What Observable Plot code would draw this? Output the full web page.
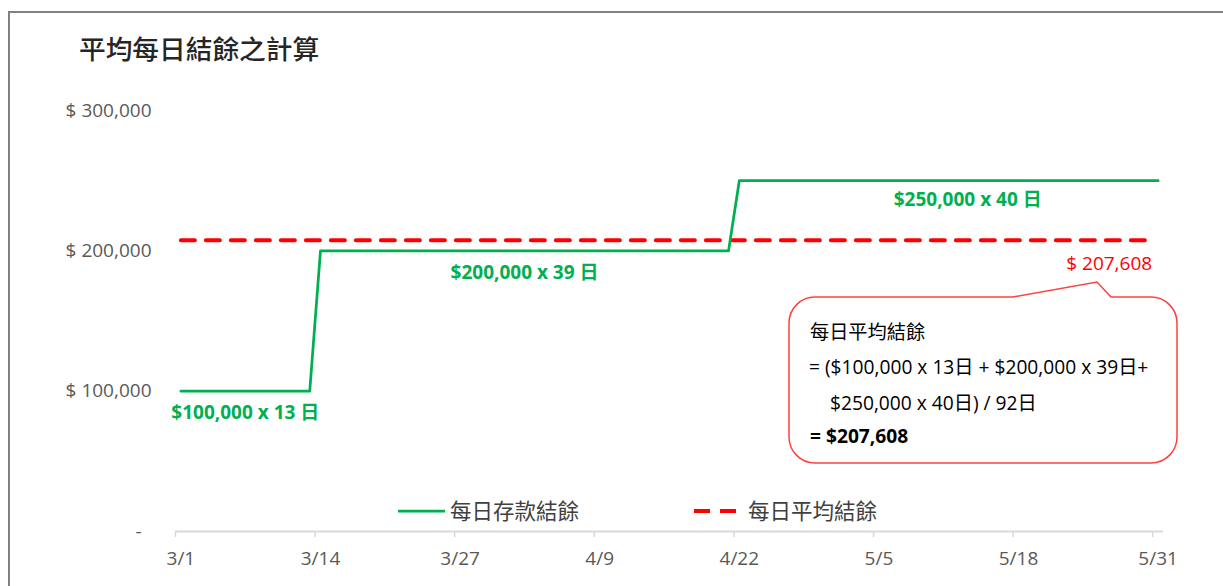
<!DOCTYPE html>
<html>
<head>
<meta charset="utf-8">
<script src="https://cdn.jsdelivr.net/npm/d3@7"></script>
<script src="https://cdn.jsdelivr.net/npm/@observablehq/plot@0.6"></script>
<style>
  html, body { margin: 0; padding: 0; background: #fff; overflow: hidden; }
  #wrap { position: relative; width: 1223px; height: 586px; overflow: hidden; }
  #frame { position: absolute; left: 8px; top: 11px; width: 1400px; height: 800px; border: 2px solid #808080; box-sizing: border-box; }
  #title { position: absolute; left: 79px; top: 30px; font-family: "Noto Sans CJK TC", sans-serif; font-size: 26.7px; color: #262626; line-height: 36px; white-space: nowrap; font-weight: 500; }
  #chart { position: absolute; left: 0; top: 0; }
  .overlay { position: absolute; left: 0; top: 0; pointer-events: none; }
</style>
</head>
<body>
<div id="wrap">
  <div id="frame"></div>
  <div id="chart"></div>
  <div id="title"></div>
  <svg class="overlay" id="over" width="1223" height="586"></svg>
</div>
<script>
// ---- data ----
const titleText = "平均每日結餘之計算";
const seriesNames = ["每日存款結餘", "每日平均結餘"];
const segmentBalances = [100000, 200000, 250000];
const segmentDays = [13, 39, 40];
const segmentLabels = ["$100,000 x 13 日", "$200,000 x 39 日", "$250,000 x 40 日"];
const averageBalance = 207608;
const averageLabel = "$ 207,608";
const startDate = "2023-03-01";
const xTickLabels = ["3/1", "3/14", "3/27", "4/9", "4/22", "5/5", "5/18", "5/31"];
const yTickValues = [0, 100000, 200000, 300000];
const calloutLines = [
  "每日平均結餘",
  "= ($100,000 x 13日 + $200,000 x 39日+",
  "$250,000 x 40日) / 92日",
  "= $207,608"
];

// ---- build tables ----
const DAY = 86400000;
const t0 = Date.parse(startDate + "T00:00:00Z");
const totalDays = d3.sum(segmentDays);
const daily = [];
const segments = [];
let dayIndex = 0;
segmentBalances.forEach((b, s) => {
  segments.push({start: dayIndex, days: segmentDays[s], balance: b, label: segmentLabels[s]});
  for (let k = 0; k < segmentDays[s]; k++) {
    daily.push({date: new Date(t0 + (dayIndex + 0.5) * DAY), balance: b, avg: averageBalance});
    dayIndex++;
  }
});
const tickDates = xTickLabels.map(s => {
  const [m, d] = s.split("/").map(Number);
  return new Date(Date.UTC(2023, m - 1, d));
});
const labelDates = tickDates.map(d => new Date(+d + DAY / 2));
const labelMap = new Map(labelDates.map((d, i) => [+d, xTickLabels[i]]));
const segMid = segments.map(s => ({...s, date: new Date(t0 + (s.start + s.days / 2) * DAY)}));

const green = "#00B050";
const red = "#FF0000";
const gray = "#595959";
const latin = "'Open Sans', 'Noto Sans CJK TC', sans-serif";

document.getElementById("title").textContent = titleText;

const chart = Plot.plot({
  width: 1223,
  height: 586,
  marginLeft: 175,
  marginRight: 60,
  marginTop: 110,
  marginBottom: 55,
  style: {fontFamily: latin, fontSize: "19px", color: gray, background: "transparent"},
  x: {type: "utc", domain: [new Date(t0), new Date(t0 + totalDays * DAY)]},
  y: {domain: [0, 300000]},
  marks: [
    Plot.ruleY([0], {stroke: "#D9D9D9", strokeWidth: 2}),
    Plot.axisX({ticks: tickDates, tickFormat: () => "", tickSize: 6, stroke: "#D9D9D9", strokeWidth: 1.5, label: null}),
    Plot.axisX({ticks: labelDates, tickFormat: d => labelMap.get(+d), tickSize: 0, tickPadding: 20, fill: gray, fontSize: 19, label: null}),
    Plot.axisY({ticks: yTickValues, tickSize: 0, tickPadding: 24, fill: gray, fontSize: 19, label: null,
      tickFormat: v => v === 0 ? "-\u00a0\u00a0" : "$ " + d3.format(",")(v)}),
    Plot.line(daily.slice(0, -1), {x: "date", y: "avg", stroke: red, strokeWidth: 4, strokeDasharray: "14,11"}),
    Plot.line(daily, {x: "date", y: "balance", stroke: green, strokeWidth: 2.75}),
    Plot.text(segMid.slice(0, 2), {x: "date", y: "balance", text: "label", dy: 22, fill: green, fontWeight: "bold", fontSize: 19}),
    Plot.text(segMid.slice(2), {x: "date", y: "balance", text: "label", dy: 19, dx: 19, fill: green, fontWeight: "bold", fontSize: 19}),
    Plot.text([daily[daily.length - 1]], {x: "date", y: "avg", text: () => averageLabel, dy: 24, dx: -6, textAnchor: "end", fill: red, fontSize: 19})
  ]
});
document.getElementById("chart").appendChild(chart);

// ---- callout & legend overlay ----
const svg = d3.select("#over");
const bx0 = 789, bx1 = 1177, by0 = 297, by1 = 463, r = 26;
const path = `M${bx0 + r},${by0} L1013,${by0} L1097,282 L1111,${by0} L${bx1 - r},${by0} A${r},${r} 0 0 1 ${bx1},${by0 + r} L${bx1},${by1 - r} A${r},${r} 0 0 1 ${bx1 - r},${by1} L${bx0 + r},${by1} A${r},${r} 0 0 1 ${bx0},${by1 - r} L${bx0},${by0 + r} A${r},${r} 0 0 1 ${bx0 + r},${by0} Z`;
svg.append("path").attr("d", path).attr("fill", "#fff").attr("stroke", "#FF4040").attr("stroke-width", 1.5);
const lineY = [339, 374, 410, 443];
const lineX = [810, 809, 830, 810];
calloutLines.forEach((t, i) => {
  svg.append("text").attr("x", lineX[i]).attr("y", lineY[i]).text(t)
    .attr("font-family", latin).attr("font-size", 19.2).attr("fill", "#000")
    .attr("font-weight", i === 3 ? "bold" : "normal");
});
// legend
svg.append("line").attr("x1", 398).attr("x2", 445).attr("y1", 511).attr("y2", 511).attr("stroke", green).attr("stroke-width", 2.75);
svg.append("text").attr("x", 450).attr("y", 519).text(seriesNames[0]).attr("font-family", "'Noto Sans CJK TC', sans-serif").attr("font-size", 21.5).attr("fill", "#404040");
svg.append("line").attr("x1", 694).attr("x2", 736).attr("y1", 511).attr("y2", 511).attr("stroke", red).attr("stroke-width", 4).attr("stroke-dasharray", "16,10");
svg.append("text").attr("x", 748).attr("y", 519).text(seriesNames[1]).attr("font-family", "'Noto Sans CJK TC', sans-serif").attr("font-size", 21.5).attr("fill", "#404040");
</script>
</body>
</html>
